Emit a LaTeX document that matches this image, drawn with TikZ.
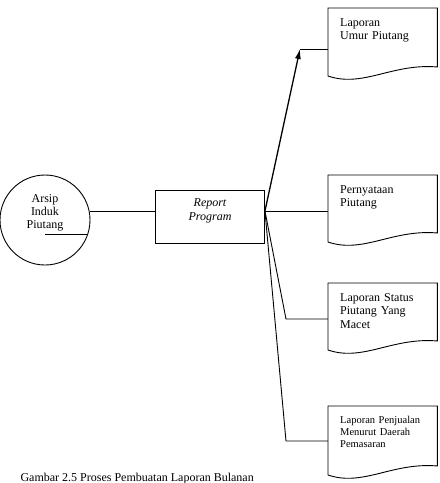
\documentclass[tikz,border=0pt]{standalone}
\usepackage{fontspec}
\setmainfont{Liberation Serif}
\usetikzlibrary{arrows.meta}

\tikzset{
  arsip/.style   = {shape=circle, draw, line width=0.9pt, minimum size=90pt, inner sep=0pt},
  proses/.style  = {shape=rectangle, draw, line width=0.9pt, minimum width=109pt, minimum height=53pt},
  laporan/.style = {shape=rectangle, anchor=north west, align=left,
                    text width=85pt, inner xsep=12pt, inner ysep=10pt,
                    font=\fontsize{12}{13.5}\selectfont},
  alur/.style    = {draw, line width=0.9pt}
}

% lembar dokumen dengan sisi bawah bergelombang
\newcommand{\kertas}[2]{%
  \draw[alur] (#1.north west) -- (#1.north east) -- ([yshift=-#2]#1.north east)
    .. controls +(-45pt,4pt) and +(35pt,-12pt) .. ([yshift=-#2-9pt]#1.north west) -- cycle;}

\begin{document}
\begin{tikzpicture}
[
    x=1pt, y=-1pt,
    every node/.style = {font=\fontsize{12}{13}\selectfont}
  ]
\useasboundingbox (0,0) rectangle (440,483);

\node[arsip] (arsip) at (45,220) {};
\node[align=center] at ([yshift=7pt]arsip.center) {Arsip\\Induk\\Piutang};
\draw[alur] (arsip.-19.5 -| arsip.center) -- (arsip.-19.5);

\node[proses] (prog) at (210,216.5) {};
\node[align=center, font=\fontsize{12}{14}\selectfont\itshape] at ([yshift=6pt]prog.center) {Report\\Program};
\coordinate (fan) at ([yshift=5.5pt]prog.east);
\draw[alur] (arsip.11.5) -- (arsip.11.5 -| prog.west);

\node[laporan] (lap1) at (328,8) {Laporan\\Umur Piutang};
\kertas{lap1}{59pt}
\node[laporan] (lap2) at (328,175) {Pernyataan\\Piutang};
\kertas{lap2}{58pt}
\node[laporan] (lap3) at (328,283) {Laporan Status\\Piutang Yang\\Macet};
\kertas{lap3}{58pt}
\node[laporan, font=\fontsize{10.5}{12}\selectfont] (lap4) at (328,406) {Laporan Penjualan\\Menurut Daerah\\Pemasaran};
\kertas{lap4}{60pt}

\coordinate (k1) at (300,49);
\coordinate (k3) at (286,319);
\coordinate (k4) at (286,441);
\draw[alur, line width=1.3pt, -{Latex[length=10pt,width=6pt]}] (fan) -- (k1);
\draw[alur] (k1) -- (k1 -| lap1.west);
\draw[alur] (fan) -- (fan -| lap2.west);
\draw[alur] (fan) -- (k3) -- (k3 -| lap3.west);
\draw[alur] (fan) -- (k4) -- (k4 -| lap4.west);

\node[anchor=base west] (judul) at (17,481) {Gambar 2.5 Proses Pembuatan Laporan Bulanan};
\end{tikzpicture}
\end{document}
